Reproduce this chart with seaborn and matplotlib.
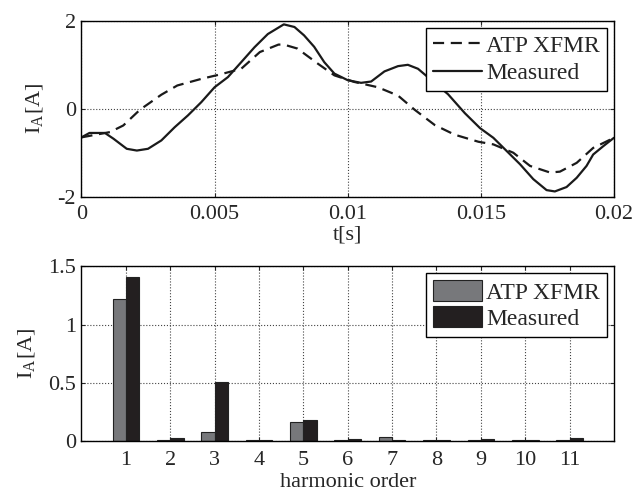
import numpy as np
import matplotlib
matplotlib.use('Agg')
import matplotlib.pyplot as plt
import pandas as pd
import seaborn as sns

# time-domain waveform
t_meas = [0, 0.0003, 0.00088, 0.0012, 0.0017, 0.00208, 0.0025, 0.003, 0.0035, 0.004,
          0.0045, 0.005, 0.0055, 0.006, 0.0065, 0.007, 0.0076, 0.008, 0.00836, 0.00874,
          0.00912, 0.0095, 0.01, 0.0105, 0.01088, 0.01138, 0.01189, 0.01226, 0.01264,
          0.01377, 0.0144, 0.01497, 0.01547, 0.01597, 0.01647, 0.01697, 0.01747, 0.01778,
          0.01822, 0.0186, 0.01897, 0.01922, 0.0196, 0.02]
i_meas = [-0.65, -0.55, -0.55, -0.68, -0.91, -0.95, -0.91, -0.72, -0.42, -0.15,
          0.15, 0.49, 0.72, 1.06, 1.4, 1.7, 1.92, 1.86, 1.67, 1.41,
          1.06, 0.8, 0.65, 0.59, 0.62, 0.85, 0.97, 1.0, 0.91,
          0.33, -0.1, -0.44, -0.66, -0.96, -1.26, -1.6, -1.85, -1.88,
          -1.78, -1.57, -1.3, -1.04, -0.85, -0.66]
t_atp = [0, 0.00107, 0.00157, 0.0022, 0.003, 0.0036, 0.0045, 0.0052, 0.006, 0.0067,
         0.0074, 0.0076, 0.00811, 0.00887, 0.0095, 0.01025, 0.01113, 0.01189, 0.01251,
         0.01327, 0.01402, 0.01491, 0.01547, 0.01622, 0.01685, 0.0176, 0.01797, 0.0186,
         0.01922, 0.01973, 0.02]
i_atp = [-0.65, -0.53, -0.38, -0.02, 0.32, 0.53, 0.68, 0.78, 0.91, 1.29,
         1.46, 1.46, 1.37, 1.03, 0.76, 0.61, 0.49, 0.3, -0.02,
         -0.37, -0.59, -0.75, -0.81, -1.0, -1.3, -1.45, -1.43, -1.23,
         -0.89, -0.74, -0.66]

# harmonic spectrum
orders = [1, 2, 3, 4, 5, 6, 7, 8, 9, 10, 11]
h_atp = [1.22, 0.014, 0.08, 0.014, 0.165, 0.01, 0.037, 0.01, 0.01, 0.01, 0.01]
h_meas = [1.41, 0.028, 0.51, 0.014, 0.185, 0.02, 0.014, 0.01, 0.02, 0.01, 0.03]

sns.set_style('ticks')
plt.rcParams['font.family'] = ['Liberation Serif', 'DejaVu Serif']
plt.rcParams['mathtext.fontset'] = 'stix'
plt.rcParams['axes.unicode_minus'] = False
plt.rcParams['font.size'] = 16

wave = pd.concat([
    pd.DataFrame({'t': t_atp, 'I': i_atp, 'series': 'ATP XFMR'}),
    pd.DataFrame({'t': t_meas, 'I': i_meas, 'series': 'Measured'}),
])
spec = pd.DataFrame({
    'order': [str(o) for o in orders] * 2,
    'I': h_atp + h_meas,
    'series': ['ATP XFMR'] * len(orders) + ['Measured'] * len(orders),
})

fig = plt.figure(figsize=(6.38, 4.94), dpi=100)
ax1 = fig.add_axes([0.1277, 0.6018, 0.8346, 0.356])
ax2 = fig.add_axes([0.1277, 0.1063, 0.8346, 0.355])

sns.lineplot(data=wave, x='t', y='I', style='series', ax=ax1, color='#1a1a1a',
             linewidth=1.6, dashes={'ATP XFMR': (5, 3), 'Measured': ''}, sort=False)
ax1.set_xlim(0, 0.02)
ax1.set_ylim(-2, 2)
ax1.set_xticks([0, 0.005, 0.01, 0.015, 0.02])
ax1.set_xticklabels(['0', '0.005', '0.01', '0.015', '0.02'])
ax1.set_yticks([-2, 0, 2])
ax1.set_xlabel('t[s]', labelpad=1)
ax1.set_ylabel(r'I$_\mathregular{A}$[A]', labelpad=9)
ax1.grid(True, linestyle=':', color='#444444', linewidth=0.8)
leg = ax1.legend(loc='upper right', fontsize=17, frameon=True, fancybox=False,
                 edgecolor='black', framealpha=1, handlelength=2.1, borderaxespad=0.3,
                 handletextpad=0.15, labelspacing=0.25, borderpad=0.3)
leg.get_frame().set_linewidth(1.0)

sns.barplot(data=spec, x='order', y='I', hue='series', ax=ax2, width=0.6,
            palette={'ATP XFMR': '#77787b', 'Measured': '#231f20'},
            edgecolor='#222222', linewidth=0.8, saturation=1)
ax2.set_xlim(-1, 11)
ax2.set_ylim(0, 1.5)
ax2.set_yticks([0, 0.5, 1, 1.5])
ax2.set_yticklabels(['0', '0.5', '1', '1.5'])
ax2.set_xlabel('harmonic order', labelpad=2)
ax2.set_ylabel(r'I$_\mathregular{A}$[A]', labelpad=8)
ax2.grid(True, linestyle=':', color='#444444', linewidth=0.8)
ax2.set_axisbelow(True)
leg2 = ax2.legend(loc='upper right', fontsize=17, frameon=True, fancybox=False,
                  edgecolor='black', framealpha=1, handlelength=2.1, handleheight=1.0,
                  borderaxespad=0.3, handletextpad=0.15, labelspacing=0.1, borderpad=0.3)
leg2.get_frame().set_linewidth(1.0)

for ax in (ax1, ax2):
    for s in ax.spines.values():
        s.set_visible(True)
        s.set_linewidth(1.0)
        s.set_color('black')
    ax.tick_params(direction='in', length=3, labelsize=16, top=True, right=True, pad=4)
ax1.tick_params(axis='x', pad=6)
ax2.tick_params(axis='x', pad=7)

fig.savefig('out.png', dpi=100)
